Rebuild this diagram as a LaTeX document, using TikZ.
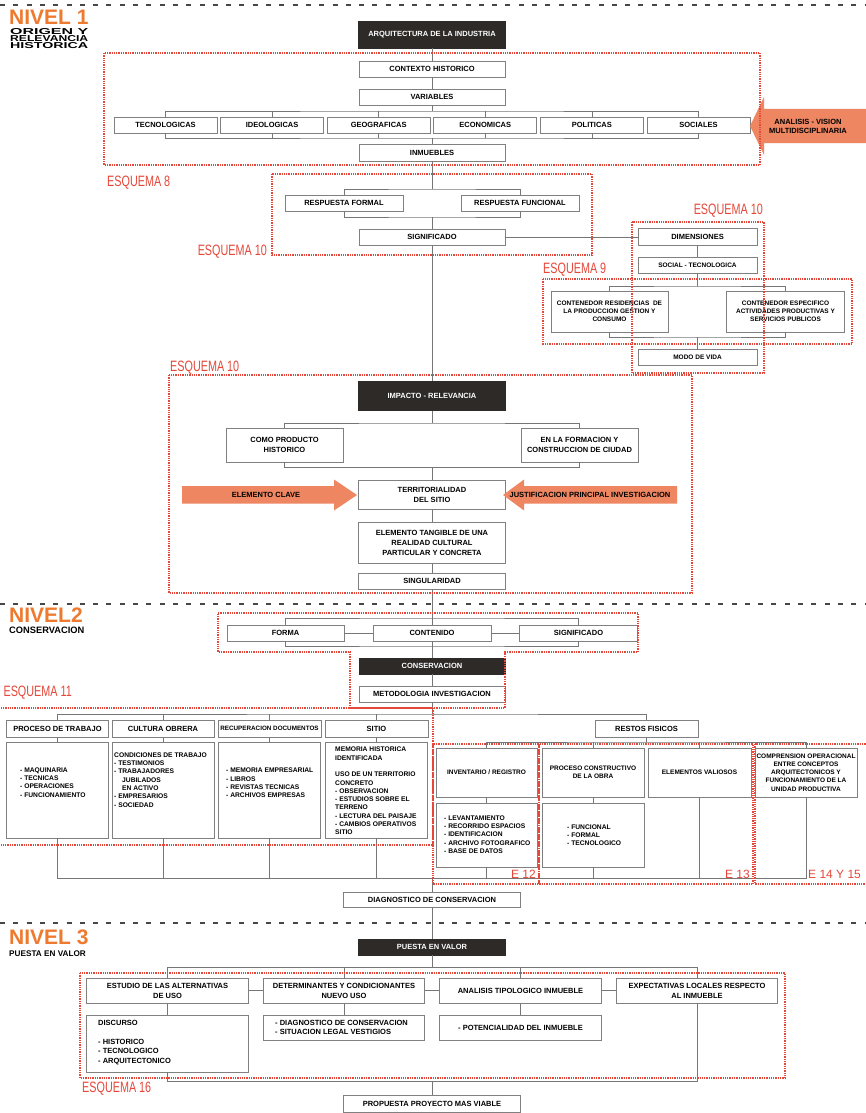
\documentclass[tikz,border=0pt]{standalone}
\usepackage{fontspec}
\setmainfont{Liberation Sans}
\newfontfamily\narrowfont[FakeStretch=0.72]{Liberation Sans}
\usepackage{graphicx}
\usetikzlibrary{calc}

\definecolor{boxgray}{RGB}{128,128,128}
\definecolor{linegray}{RGB}{118,118,118}
\definecolor{darkbox}{RGB}{45,42,40}
\definecolor{esqred}{RGB}{229,72,58}
\definecolor{nivorange}{RGB}{238,122,48}
\definecolor{arroworange}{RGB}{238,134,98}

\tikzset{
  bx/.style={draw=boxgray,line width=0.9pt,fill=white,inner sep=1pt,align=center,
    font=\bfseries\fontsize{7.5}{10}\selectfont},
  sm/.style={font=\bfseries\fontsize{6.5}{8.2}\selectfont},
  dk/.style={bx,fill=darkbox,draw=darkbox,text=white},
  sz/.style 2 args={minimum width=#1pt,minimum height=#2pt},
  ln/.style={draw=linegray,line width=0.8pt},
  esq/.style={draw=esqred,densely dotted,line width=1.3pt},
  esqlbl/.style={text=esqred,inner sep=0pt,font=\narrowfont\fontsize{15}{15}\selectfont},
  elbl/.style={text=esqred,inner sep=0pt,font=\fontsize{12}{12}\selectfont},
  niv/.style={text=nivorange,inner sep=0pt,anchor=west,font=\bfseries\fontsize{21}{21}\selectfont},
  sub/.style={inner sep=0pt,anchor=west,font=\bfseries\fontsize{9.3}{10}\selectfont},
  lst/.style={inner sep=0pt,anchor=north west,align=left,font=\bfseries\fontsize{6.7}{8.3}\selectfont},
  lvl/.style={draw=black!72,line width=2.6pt,dash pattern=on 5pt off 8.3pt},
  flecha/.style={fill=arroworange},
  ftxt/.style={inner sep=0pt,align=center,font=\bfseries\fontsize{7.5}{9}\selectfont},
}

\begin{document}
\begin{tikzpicture}[x=1pt,y=-1pt]
  \useasboundingbox (0,0) rectangle (865,1113);
  \fill[white] (0,0) rectangle (865,1113);

  % level separators
  \draw[lvl] (0,5) -- (865,5);
  \draw[lvl] (0,604) -- (865,604);
  \draw[lvl] (0,923) -- (865,923);

  % NIVEL 1
  \node[niv] (niv1) at (9,17.5) {NIVEL 1};
  \node[inner sep=0pt,anchor=north west,align=left,font=\bfseries\fontsize{7}{7.3}\selectfont] (niv1t) at (10,28)
    {\resizebox{78pt}{6pt}{ORIGEN Y}\\\resizebox{78pt}{6pt}{RELEVANCIA}\\\resizebox{78pt}{6pt}{HISTORICA}};

  \node[dk,sz={147}{27}] (arq) at (432,34.5) {ARQUITECTURA DE LA INDUSTRIA};
  \node[bx,sz={146}{16}] (ctx) at (432,69) {CONTEXTO HISTORICO};
  \node[bx,sz={146}{16}] (var) at (432,97) {VARIABLES};
  \foreach \nm/\lab [count=\i from 0] in {t1/TECNOLOGICAS,t2/IDEOLOGICAS,t3/GEOGRAFICAS,
      t4/ECONOMICAS,t5/POLITICAS,t6/SOCIALES}
    \node[bx,sz={103}{16}] (\nm) at (165.5+106.6*\i,125) {\lab};
  \node[bx,sz={146}{17}] (inm) at (432,152.5) {INMUEBLES};

  \coordinate (vt) at (432,111);
  \coordinate (vb) at (432,138);
  \draw[ln] (arq) -- (ctx);
  \draw[ln] (ctx) -- (var);
  \draw[ln] (var) -- (vt);
  \draw[ln] (t1.north) |- (vt) -| (t6.north);
  \draw[ln] (t1.south) |- (vb) -| (t6.south);
  \foreach \nm in {t2,t3,t4,t5} {
    \draw[ln] (\nm.north) -- (\nm.north |- vt);
    \draw[ln] (\nm.south) -- (\nm.south |- vb);
  }
  \draw[ln] (vb) -- (inm);

  % analisis arrow
  \fill[flecha] (750,126) -- (764,97) -- (764,109) -- (870,109) -- (870,143) -- (764,143) -- (764,155) -- cycle;
  \node[ftxt] (anal) at (808,126) {ANALISIS - VISION\\MULTIDISCIPLINARIA};

  % respuesta / significado
  \node[bx,sz={118}{16}] (rfo) at (344,203) {RESPUESTA FORMAL};
  \node[bx,sz={118}{16}] (rfu) at (520,203) {RESPUESTA FUNCIONAL};
  \node[bx,sz={146}{16}] (sig) at (432,237) {SIGNIFICADO};
  \coordinate (rt) at (432,189);
  \coordinate (rb) at (432,217);
  \draw[ln] (inm) -- (rt);
  \draw[ln] (rfo.north) |- (rt) -| (rfu.north);
  \draw[ln] (rfo.south) |- (rb) -| (rfu.south);
  \draw[ln] (rb) -- (sig);

  % dimensiones
  \node[bx,sz={119}{17}] (dim) at (697.5,237) {DIMENSIONES};
  \node[bx,sm,sz={119}{16}] (soc) at (697.5,265) {SOCIAL - TECNOLOGICA};
  \node[bx,sm,sz={117}{41}] (cres) at (609.5,311.5) {CONTENEDOR RESIDENCIAS\ \ DE\\LA PRODUCCION GESTION Y\\CONSUMO};
  \node[bx,sm,sz={118}{41}] (cesp) at (785.5,311.5) {CONTENEDOR ESPECIFICO\\ACTIVIDADES PRODUCTIVAS Y\\SERVICIOS PUBLICOS};
  \node[bx,sm,sz={119}{16}] (mdv) at (697.5,357) {MODO DE VIDA};
  \coordinate (dt) at (697.5,286);
  \coordinate (db) at (697.5,337);
  \draw[ln] (sig.east) -- (dim.west);
  \draw[ln] (dim) -- (soc);
  \draw[ln] (soc) -- (dt);
  \draw[ln] (cres.north) |- (dt) -| (cesp.north);
  \draw[ln] (cres.south) |- (db) -| (cesp.south);
  \draw[ln] (db) -- (mdv);

  % impacto
  \node[dk,sz={147}{29}] (imp) at (432,396) {IMPACTO - RELEVANCIA};
  \node[bx,sz={117}{34}] (cph) at (284.5,445) {COMO PRODUCTO\\HISTORICO};
  \node[bx,sz={117}{34}] (efc) at (579.5,445) {EN LA FORMACION Y\\CONSTRUCCION DE CIUDAD};
  \node[bx,sz={147}{29}] (ter) at (432,495) {TERRITORIALIDAD\\DEL SITIO};
  \node[bx,sz={147}{41}] (tan) at (432,542.5) {ELEMENTO TANGIBLE DE UNA\\REALIDAD CULTURAL\\PARTICULAR Y CONCRETA};
  \node[bx,sz={147}{16}] (sing) at (432,581) {SINGULARIDAD};
  \coordinate (it) at (432,423);
  \coordinate (ib) at (432,467.5);
  \draw[ln] (sig) -- (imp);
  \draw[ln] (imp) -- (it);
  \draw[ln] (cph.north) |- (it) -| (efc.north);
  \draw[ln] (cph.south) |- (ib) -| (efc.south);
  \draw[ln] (ib) -- (ter);
  \draw[ln] (ter) -- (tan);
  \draw[ln] (tan) -- (sing);

  \fill[flecha] (182,486) -- (334,486) -- (334,479.5) -- (357,495) -- (334,510.5) -- (334,503.5) -- (182,503.5) -- cycle;
  \node[ftxt] (clave) at (266,495) {ELEMENTO CLAVE};
  \fill[flecha] (677,486) -- (524,486) -- (524,479.5) -- (503,495) -- (524,510.5) -- (524,503.5) -- (677,503.5) -- cycle;
  \node[ftxt] (justif) at (590,495) {JUSTIFICACION PRINCIPAL INVESTIGACION};

  % NIVEL 2
  \node[niv] (niv2) at (9,615.5) {NIVEL2};
  \node[sub] (niv2t) at (9,630) {CONSERVACION};

  \node[bx,sz={117}{16}] (for) at (285.5,633) {FORMA};
  \node[bx,sz={118}{16}] (con) at (432,633) {CONTENIDO};
  \node[bx,sz={118}{16}] (sgn) at (578.5,633) {SIGNIFICADO};
  \coordinate (ft) at (432,618);
  \coordinate (fb) at (432,646);
  \draw[ln] (sing) -- (con);
  \draw[ln] (for.north) |- (ft) -| (sgn.north);
  \draw[ln] (for.south) |- (fb) -| (sgn.south);
  \draw[ln] (for) -- (con);
  \draw[ln] (con) -- (sgn);
  \node[dk,sz={146}{16}] (cons) at (432,666) {CONSERVACION};
  \node[bx,sz={146}{16}] (met) at (432,694) {METODOLOGIA INVESTIGACION};
  \draw[ln] (con) -- (cons);
  \draw[ln] (cons) -- (met);

  % left tree
  \coordinate (lt) at (432,714);
  \node[bx,sz={102}{17}] (h1) at (57.5,728.5) {PROCESO DE TRABAJO};
  \node[bx,sz={102}{17}] (h2) at (163,728.5) {CULTURA OBRERA};
  \node[bx,sz={103}{17},font=\bfseries\fontsize{6.3}{7}\selectfont] (h3) at (269.5,728.5) {RECUPERACION DOCUMENTOS};
  \node[bx,sz={103}{17}] (h4) at (376.5,728.5) {SITIO};
  \node[bx,sz={103}{17}] (rf) at (646.5,728.5) {RESTOS FISICOS};
  \draw[ln] (met) -- (lt);
  \draw[ln] (h1.north) |- (lt) -| (rf.north);
  \foreach \nm in {h2,h3,h4}
    \draw[ln] (\nm.north) -- (\nm.north |- lt);
  \foreach \nm/\x in {b1/57.5,b2/163,b3/269.5,b4/376.5}
    \node[bx,sz={102}{96}] (\nm) at (\x,790) {};
  \draw[ln] (h1) -- (b1);
  \draw[ln] (h2) -- (b2);
  \draw[ln] (h3) -- (b3);
  \draw[ln] (h4) -- (b4);
  \node[lst] (l1) at (20,767.5) {- MAQUINARIA\\- TECNICAS\\- OPERACIONES\\- FUNCIONAMIENTO};
  \node[lst] (l2) at (114,752.5) {CONDICIONES DE TRABAJO\\- TESTIMONIOS\\- TRABAJADORES\\\hspace*{8pt}JUBILADOS\\\hspace*{8pt}EN ACTIVO\\- EMPRESARIOS\\- SOCIEDAD};
  \node[lst] (l3) at (226,768) {- MEMORIA EMPRESARIAL\\- LIBROS\\- REVISTAS TECNICAS\\- ARCHIVOS EMPRESAS};
  \node[lst] (l4) at (335,747) {MEMORIA HISTORICA\\IDENTIFICADA\\[8.3pt]USO DE UN TERRITORIO\\CONCRETO\\- OBSERVACION\\- ESTUDIOS SOBRE EL\\TERRENO\\- LECTURA DEL PAISAJE\\- CAMBIOS OPERATIVOS\\SITIO};

  % restos fisicos
  \coordinate (rs) at (646.5,742);
  \node[bx,sm,sz={101}{49}] (r1) at (486.5,772.5) {INVENTARIO / REGISTRO};
  \node[bx,sm,sz={102}{49}] (r2) at (593,772.5) {PROCESO CONSTRUCTIVO\\DE LA OBRA};
  \node[bx,sm,sz={103}{49}] (r3) at (699.5,772.5) {ELEMENTOS VALIOSOS};
  \node[bx,sm,sz={102}{49}] (r4) at (806,772.5) {COMPRENSION OPERACIONAL\\ENTRE CONCEPTOS\\ARQUITECTONICOS Y\\FUNCIONAMIENTO DE LA\\UNIDAD PRODUCTIVA};
  \draw[ln] (rf) -- (rs);
  \draw[ln] (r1.north) |- (rs) -| (r4.north);
  \foreach \nm in {r2,r3}
    \draw[ln] (\nm.north) -- (\nm.north |- rs);
  \node[bx,sz={101}{64}] (s1) at (486.5,835) {};
  \node[bx,sz={102}{64}] (s2) at (593,835) {};
  \draw[ln] (r1) -- (s1);
  \draw[ln] (r2) -- (s2);
  \node[lst] (ls1) at (444,815.5) {- LEVANTAMIENTO\\- RECORRIDO ESPACIOS\\- IDENTIFICACION\\- ARCHIVO FOTOGRAFICO\\- BASE DE DATOS};
  \node[lst] (ls2) at (567,824.3) {- FUNCIONAL\\- FORMAL\\- TECNOLOGICO};

  \coordinate (lb) at (432,878);
  \draw[ln] (b1.south) |- (lb) -| (r4.south);
  \foreach \nm in {b2,b3,b4,s1,s2,r3}
    \draw[ln] (\nm.south) -- (\nm.south |- lb);
  \node[bx,sz={177}{15}] (diag) at (432,899.5) {DIAGNOSTICO DE CONSERVACION};
  \draw[ln] (lb) -- (diag);

  % NIVEL 3
  \node[niv] (niv3) at (9,937.5) {NIVEL 3};
  \node[sub,font=\bfseries\fontsize{8.2}{9}\selectfont] (niv3t) at (9,953.5) {PUESTA EN VALOR};
  \node[dk,sz={147}{16}] (pv) at (432,947) {PUESTA EN VALOR};
  \draw[ln] (diag) -- (pv);
  \coordinate (pt) at (432,967);
  \draw[ln] (pv) -- (pt);
  \node[bx,sz={162}{25}] (n1) at (167.5,990.5) {ESTUDIO DE LAS ALTERNATIVAS\\DE USO};
  \node[bx,sz={161}{25}] (n2) at (344,990.5) {DETERMINANTES Y CONDICIONANTES\\NUEVO USO};
  \node[bx,sz={162}{25}] (n3) at (520.5,990.5) {ANALISIS TIPOLOGICO INMUEBLE};
  \node[bx,sz={161}{25}] (n4) at (697,990.5) {EXPECTATIVAS LOCALES RESPECTO\\AL INMUEBLE};
  \draw[ln] (n1.north) |- (pt) -| (n4.north);
  \foreach \nm in {n2,n3}
    \draw[ln] (\nm.north) -- (\nm.north |- pt);
  \draw[ln] (n1) -- (n2);
  \draw[ln] (n2) -- (n3);
  \draw[ln] (n3) -- (n4);
  \node[bx,sz={162}{57}] (m1) at (167.5,1043.5) {};
  \node[bx,sz={161}{25}] (m2) at (344,1027.5) {};
  \node[bx,sz={162}{25}] (m3) at (520.5,1027.5) {- POTENCIALIDAD DEL INMUEBLE};
  \draw[ln] (n1) -- (m1);
  \draw[ln] (n2) -- (m2);
  \draw[ln] (n3) -- (m3);
  \node[lst,font=\bfseries\fontsize{7.5}{9.5}\selectfont] (lm1) at (98,1020) {DISCURSO\\[9.5pt]- HISTORICO\\- TECNOLOGICO\\- ARQUITECTONICO};
  \node[lst,font=\bfseries\fontsize{7.5}{9.5}\selectfont] (lm2) at (275,1020) {- DIAGNOSTICO DE CONSERVACION\\- SITUACION LEGAL VESTIGIOS};
  \coordinate (pb) at (432,1081);
  \draw[ln] (m1.south) |- (pb) -| (n4.south);
  \node[bx,sz={177}{17}] (prop) at (432,1103.5) {PROPUESTA PROYECTO MAS VIABLE};
  \draw[ln] (pb) -- (prop);

  % esquemas
  \draw[esq] (104,53) rectangle (760,165);
  \node[esqlbl,anchor=west] (e8) at (107,182.5) {ESQUEMA 8};
  \draw[esq] (272,174) rectangle (592,255);
  \node[esqlbl,anchor=east] (e10a) at (267,251.5) {ESQUEMA 10};
  \draw[esq] (632,222) rectangle (764,373);
  \node[esqlbl,anchor=east] (e10b) at (763,210.5) {ESQUEMA 10};
  \draw[esq] (543,279) rectangle (852,344);
  \node[esqlbl,anchor=west] (e9) at (543,269.5) {ESQUEMA 9};
  \draw[esq] (169,375) rectangle (692,593);
  \node[esqlbl,anchor=west] (e10c) at (170,367.5) {ESQUEMA 10};
  \draw[esq] (218,613) -- (638,613) -- (638,652) -- (505,652) -- (505,708)
    -- (350,708) -- (350,652) -- (218,652) -- cycle;
  \draw[esq] (-5,708) rectangle (433,845);
  \node[esqlbl,anchor=east] (e11) at (72,692.5) {ESQUEMA 11};
  \draw[esq] (433,744) rectangle (539,884);
  \draw[esq] (539,744) rectangle (753,884);
  \draw[esq] (755,744) rectangle (875,884);
  \node[elbl,anchor=east] (e12) at (536,874) {E 12};
  \node[elbl,anchor=east] (e13) at (750,874) {E 13};
  \node[elbl,anchor=west] (e14) at (808,874) {E 14 Y 15};
  \draw[esq] (80,973) rectangle (785,1078);
  \node[esqlbl,anchor=west] (e16) at (82,1088.5) {ESQUEMA 16};
\end{tikzpicture}
\end{document}
